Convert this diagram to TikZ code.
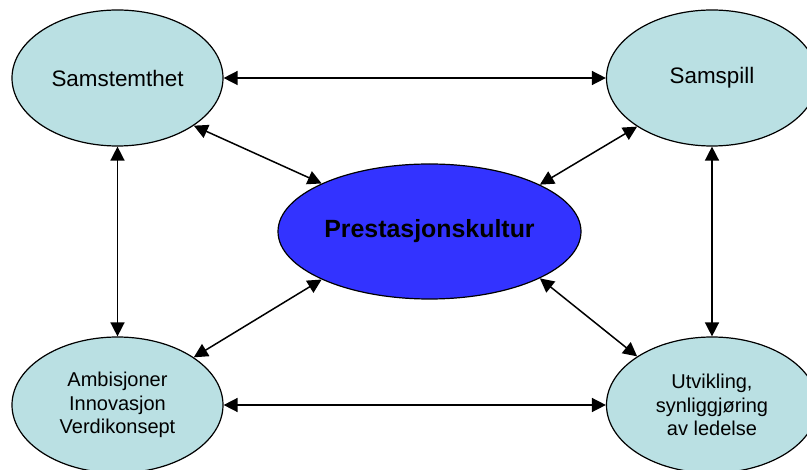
\documentclass[tikz,border=0pt]{standalone}
\usepackage{fontspec}
\setmainfont{Liberation Sans}
\usetikzlibrary{arrows.meta,shapes.geometric}
\definecolor{lightcyan}{RGB}{186,224,227}
\definecolor{strongblue}{RGB}{51,51,255}
\tikzset{
  outer/.style={ellipse, draw=black, line width=1.2pt, fill=lightcyan, minimum width=211pt, minimum height=136pt, inner sep=0pt, align=center},
  inner/.style={ellipse, draw=black, line width=1.2pt, fill=strongblue, minimum width=303pt, minimum height=135pt, inner sep=0pt, align=center, font=\fontsize{24.9}{29}\selectfont\bfseries},
  toptext/.style={font=\fontsize{22.4}{27}\selectfont},
  bottext/.style={font=\fontsize{20}{23.3}\selectfont},
  link/.style={line width=1.5pt, {Triangle[length=14pt,width=14pt]}-{Triangle[length=14pt,width=14pt]}}
}
\begin{document}
\begin{tikzpicture}[x=1pt,y=-1pt]
\useasboundingbox (0,0) rectangle (807,470);
\node[outer, toptext] (tl) at (117.5,78) {Samstemthet};
\node[outer, toptext] (tr) at (712,78) {Samspill};
\node[outer, bottext] (bl) at (117.5,405) {Ambisjoner\\Innovasjon\\Verdikonsept};
\node[outer, bottext] (br) at (712,405) {Utvikling,\\synliggjøring\\av ledelse};
\node[inner] (c) at (429.5,231.5) {Prestasjonskultur};
\draw[link] (tl.east) -- (tr.west);
\draw[link] (bl.east) -- (br.west);
\draw[link] (tl.south) -- (bl.north);
\draw[link] (tr.south) -- (br.north);
\draw[link] (tl.-32.6) -- (c.156.5);
\draw[link] (tr.-147.4) -- (c.23.5);
\draw[link] (bl.32.6) -- (c.-156.5);
\draw[link] (br.147.4) -- (c.-23.5);
\end{tikzpicture}
\end{document}
